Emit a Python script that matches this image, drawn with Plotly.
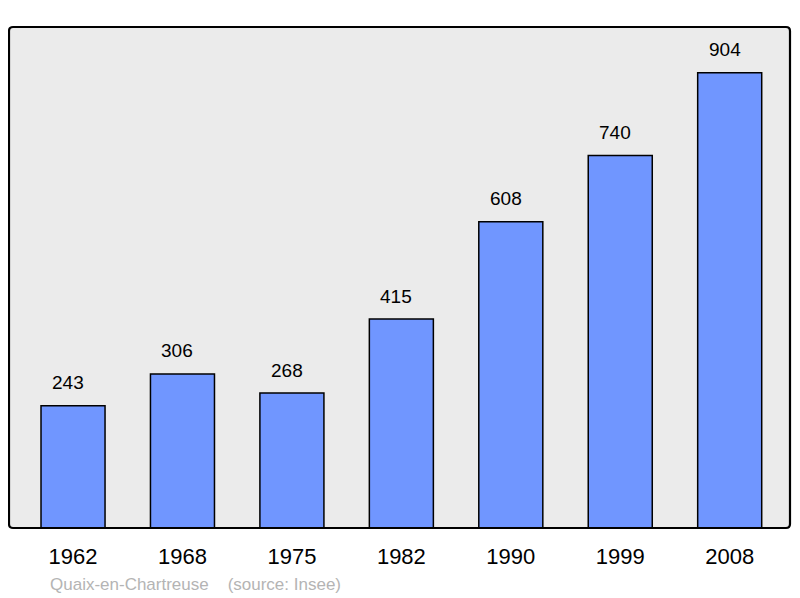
import plotly.graph_objects as go

years = ["1962", "1968", "1975", "1982", "1990", "1999", "2008"]
population = [243, 306, 268, 415, 608, 740, 904]
footer = "Quaix-en-Chartreuse    (source: Insee)"

FONT = "Liberation Sans, Arial, sans-serif"
PW, PH = 781, 501

fig = go.Figure()
fig.add_trace(go.Bar(
    x=list(range(len(years))), y=population,
    width=0.585,
    marker=dict(color="#7096ff", line=dict(color="#000000", width=1.5)),
    hoverinfo="skip",
))

for i, v in enumerate(population):
    fig.add_annotation(x=i, y=v, text=str(v), showarrow=False,
                       yanchor="middle", yshift=23, xshift=-5,
                       font=dict(size=19, color="#000000", family=FONT))

fig.add_annotation(xref="paper", yref="paper", x=(48 - 9) / PW, y=-(584 - 528) / PH,
                   xanchor="left", yanchor="middle", text=footer, showarrow=False,
                   font=dict(size=17, color="#b4b4b4", family=FONT))

# rounded border
rx, ry = 4 / PW, 4 / PH
path = (f"M {rx},0 L {1-rx},0 Q 1,0 1,{ry} L 1,{1-ry} Q 1,1 {1-rx},1 "
        f"L {rx},1 Q 0,1 0,{1-ry} L 0,{ry} Q 0,0 {rx},0 Z")
fig.add_shape(type="path", xref="paper", yref="paper", path=path,
              line=dict(color="#000000", width=2.2), layer="above")

fig.update_layout(
    width=792, height=590,
    margin=dict(l=1, r=10, t=19, b=70),
    paper_bgcolor="#ffffff", plot_bgcolor="#ebebeb",
    showlegend=False,
    font=dict(family=FONT, color="#000000"),
    xaxis=dict(range=[-0.585, 6.551], tickmode="array",
               tickvals=list(range(len(years))), ticktext=years,
               showgrid=False, zeroline=False, ticks="outside", ticklen=9,
               tickcolor="rgba(0,0,0,0)",
               tickfont=dict(size=22), fixedrange=True),
    yaxis=dict(range=[0, 995], showgrid=False, zeroline=False,
               showticklabels=False, ticks="", fixedrange=True),
)

fig.write_html("out.html")
